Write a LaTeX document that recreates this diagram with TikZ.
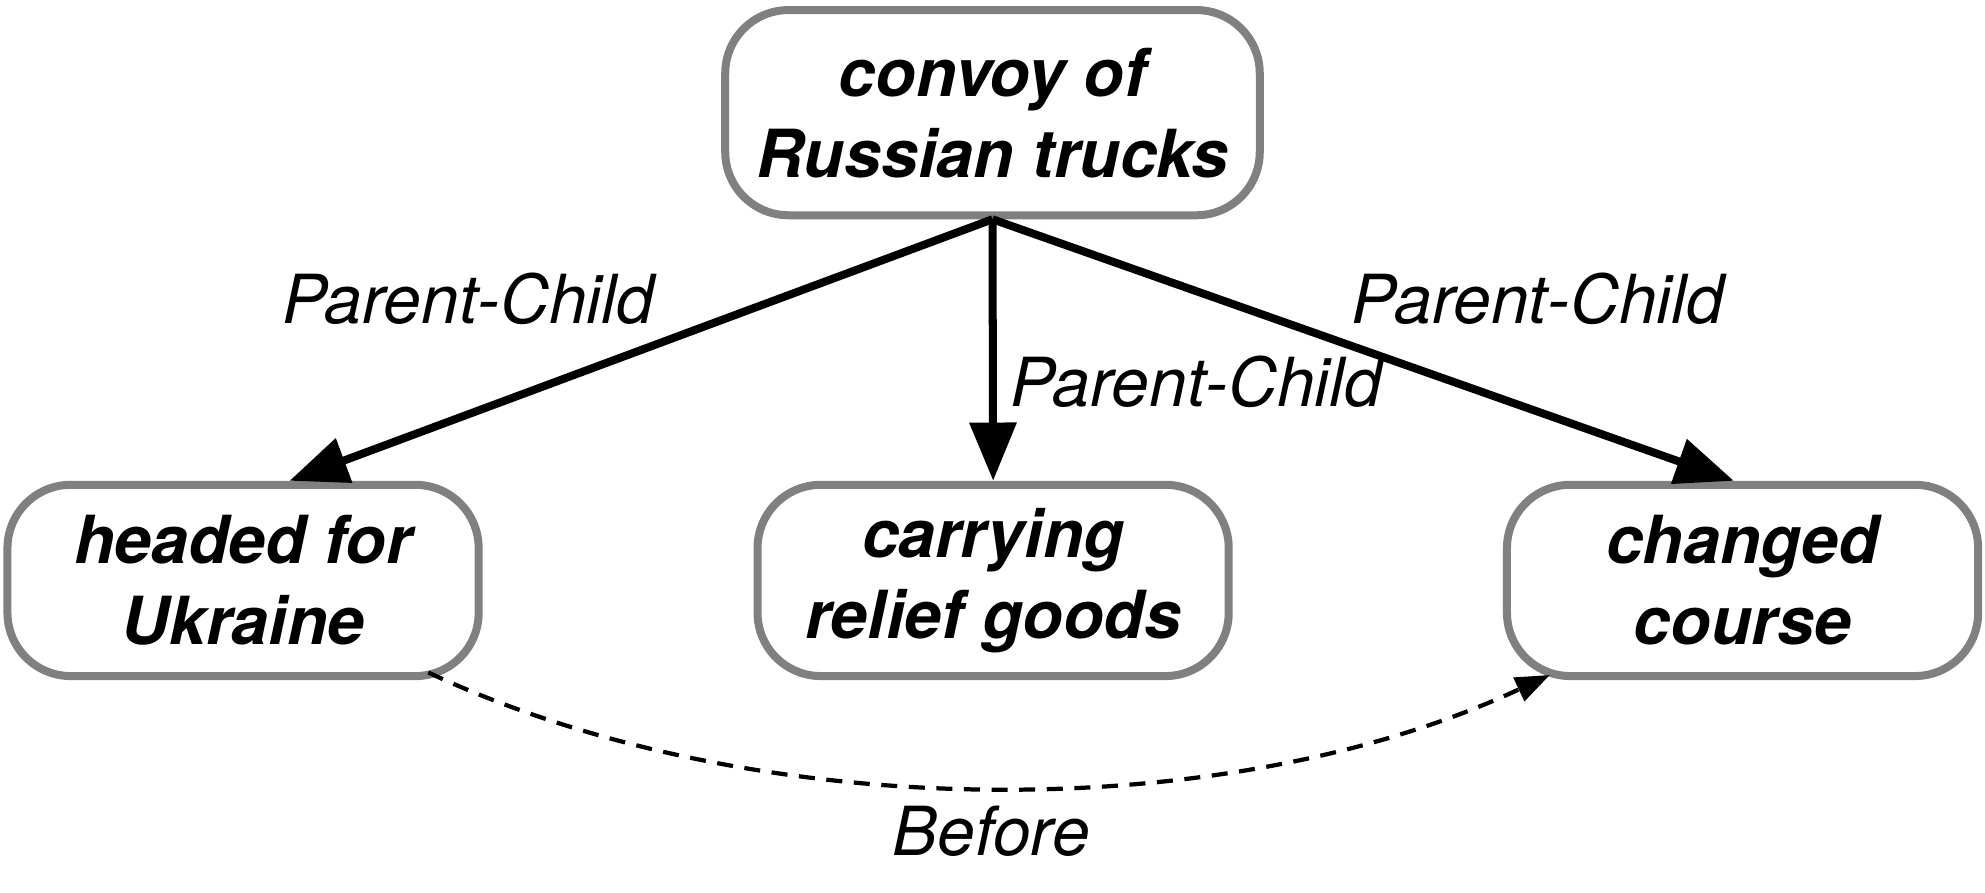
\documentclass[tikz,border=0pt]{standalone}
\usepackage{fontspec}
\setmainfont{TeX Gyre Heros}
\usepackage{tikz}
\usetikzlibrary{arrows.meta,positioning,calc}

\tikzset{
  event/.style={draw=gray, line width=1.8pt, fill=white, rounded corners=0.5cm,
    minimum width=3.72cm, minimum height=1.51cm, inner sep=0pt, align=center,
    font=\fontsize{14.9}{18.2}\selectfont\bfseries\itshape},
  rel/.style={font=\fontsize{15.2}{17}\selectfont\itshape},
  pc/.style={-{Triangle[length=0.46cm,width=0.36cm]}, line width=1.8pt},
  before/.style={-{Triangle[length=0.27cm,width=0.2cm]}, line width=0.95pt,
    dash pattern=on 3.6pt off 2.6pt}
}

\begin{document}
\begin{tikzpicture}[x=0.01cm,y=-0.01cm]
    \useasboundingbox (0,0) rectangle (1568,705.4);

    \node [event, minimum width=4.22cm, minimum height=1.62cm] (convoy) at (784,89) {convoy of\\Russian trucks};
    \node [event] (headed) at (192,458.5) {headed for\\Ukraine};
    \node [event] (carrying) at (784.5,458.5) {carrying\\relief goods};
    \node [event] (changed) at (1376.5,458.5) {changed\\course};

    \node [rel] (pc1) at (370,236) {Parent-Child};
    \node [rel] (pc2) at (945,302) {Parent-Child};
    \node [rel] (pc3) at (1215,236) {Parent-Child};
    \node [rel] (bef) at (783,657) {Before};

    \draw [pc] (convoy.south) -- (headed.65);
    \draw [pc] (convoy.south) -- (carrying.north);
    \draw [pc] (convoy.south) -- (changed.95);
    % temporal link under the boxes
    \draw [before] ($(headed.south east)+(-43,-6)$) to[out=-25,in=-155,looseness=0.82] ($(changed.south west)+(37,-4)$);
\end{tikzpicture}
\end{document}
